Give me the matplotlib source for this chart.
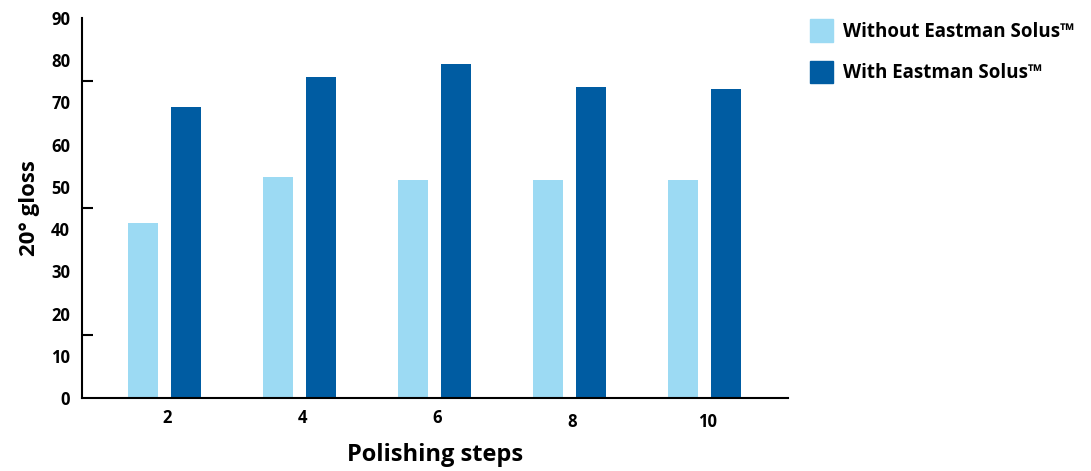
import numpy as np
import matplotlib

matplotlib.use("Agg")
import matplotlib.pyplot as plt
from matplotlib.patches import Patch
from matplotlib.ticker import MultipleLocator
from matplotlib.transforms import ScaledTranslation

plt.rcParams["font.family"] = ["Open Sans", "DejaVu Sans"]

steps = ["2", "4", "6", "8", "10"]
without_solus = [41.5, 52.3, 51.6, 51.6, 51.6]
with_solus = [68.9, 76.0, 79.1, 73.7, 73.2]

LIGHT = "#9cdaf3"
DARK = "#005ca2"

fig = plt.figure(figsize=(10.91, 4.71), dpi=100)
ax = fig.add_axes([0.0752, 0.155, 0.6471, 0.8068])

x = np.arange(len(steps))
off = 0.159
w = 0.222
ax.bar(x - off, without_solus, w, color=LIGHT)
ax.bar(x + off, with_solus, w, color=DARK)

ax.set_xlim(-0.611, 4.619)
ax.set_ylim(0, 90)
ax.set_xticks(x + 0.02)
ax.set_xticklabels(steps)
ax.tick_params(axis="x", length=0, pad=8, labelsize=12)
# the last two step labels sit a little lower
for lbl in ax.get_xticklabels()[3:]:
    lbl.set_transform(lbl.get_transform() + ScaledTranslation(0, -0.04, fig.dpi_scale_trans))

# labels every 10, tick marks every 15
ax.yaxis.set_major_locator(MultipleLocator(10))
ax.yaxis.set_minor_locator(MultipleLocator(15))
ax.tick_params(axis="y", which="major", length=0, pad=8.6, labelsize=12)
ax.tick_params(axis="y", which="minor", direction="in", length=8, width=1.5)
for t in ax.get_xticklabels() + ax.get_yticklabels():
    t.set_fontweight("bold")

for s in ("top", "right"):
    ax.spines[s].set_visible(False)
for s in ("left", "bottom"):
    ax.spines[s].set_linewidth(1.5)

ax.set_ylabel("20° gloss", fontsize=16, fontweight="bold", labelpad=8)
ax.set_xlabel("Polishing steps", fontsize=17, fontweight="bold", va="center")
ax.xaxis.set_label_coords(0.5, -0.15)

handles = [Patch(color=LIGHT), Patch(color=DARK)]
fig.legend(handles, ["Without Eastman Solus™", "With Eastman Solus™"],
           loc="upper left", bbox_to_anchor=(0.7424, 0.9597), frameon=False,
           prop={"size": 13.5, "weight": "bold"}, handlelength=1.22,
           handleheight=1.5, handletextpad=0.52, labelspacing=1.0,
           borderaxespad=0, borderpad=0)

fig.savefig("out.png", dpi=100)
